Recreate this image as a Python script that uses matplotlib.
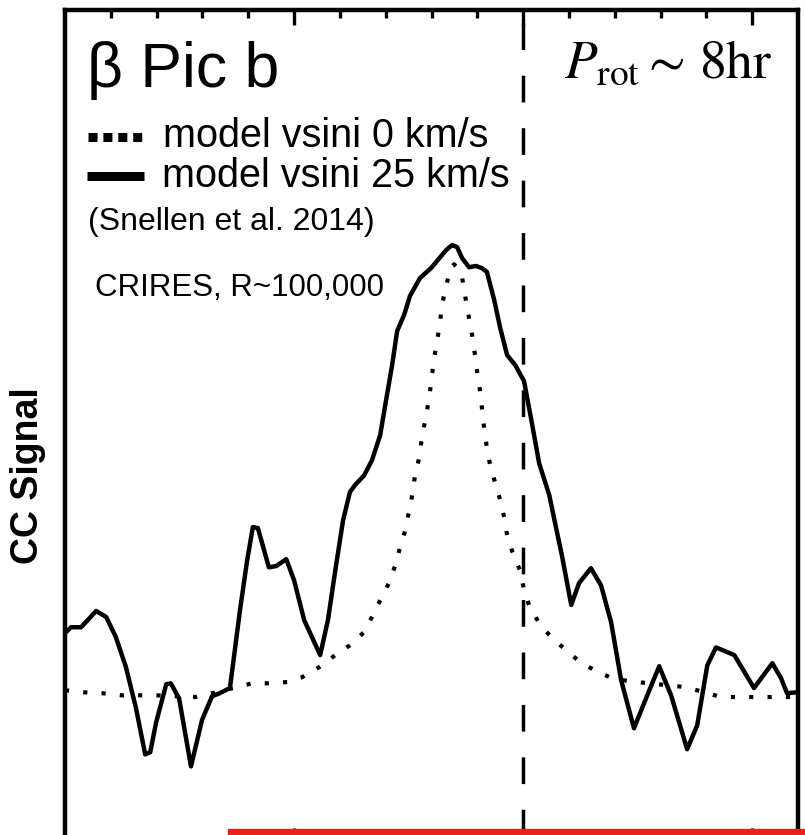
import numpy as np
import matplotlib.pyplot as plt
from matplotlib.lines import Line2D
from matplotlib.patches import Rectangle

plt.rcParams['font.family'] = ['Liberation Sans', 'DejaVu Sans']
plt.rcParams['mathtext.fontset'] = 'stix'

# velocity (km/s) and CC signal
v_obs = [-100.0, -98.7, -96.5, -93.2, -91.0, -88.9, -86.7, -84.5, -82.5, -81.4,
         -80.1, -77.9, -76.9, -75.1, -72.5, -70.1, -67.9, -66.2, -64.0, -61.8,
         -60.3, -59.0, -57.9, -55.5, -53.9, -51.7, -50.0, -47.8, -44.3, -42.6,
         -41.0, -39.3, -37.8, -36.7, -34.7, -33.0, -31.2, -30.1, -28.6, -27.5,
         -26.0, -24.7, -22.5, -20.1, -18.3, -16.8, -15.5, -14.4, -13.3, -11.8,
         -10.3, -9.0, -7.9, -6.3, -5.0, -3.5, -1.7, 0.2, 2.0, 3.5,
         5.7, 7.2, 8.5, 10.5, 12.2, 14.8, 17.0, 19.2, 21.4, 24.2,
         27.1, 29.7, 32.3, 35.8, 38.0, 40.2, 42.1, 46.1, 50.4, 54.4,
         56.3, 57.6, 59.8]
cc_obs = [0.133, 0.147, 0.147, 0.185, 0.171, 0.124, 0.054, -0.042, -0.150, -0.145,
          -0.075, 0.014, 0.016, -0.019, -0.178, -0.070, -0.014, -0.007, 0.005, 0.187,
          0.299, 0.381, 0.379, 0.287, 0.290, 0.306, 0.257, 0.164, 0.082, 0.164,
          0.280, 0.397, 0.463, 0.479, 0.502, 0.537, 0.596, 0.666, 0.759, 0.839,
          0.876, 0.921, 0.963, 0.986, 1.009, 1.028, 1.040, 1.035, 1.009, 0.988,
          0.991, 0.986, 0.977, 0.911, 0.846, 0.783, 0.759, 0.722, 0.619, 0.530,
          0.456, 0.379, 0.313, 0.199, 0.250, 0.285, 0.245, 0.159, 0.023, -0.089,
          -0.012, 0.056, -0.012, -0.138, -0.082, 0.058, 0.100, 0.082, 0.005, 0.063,
          0.028, -0.007, -0.005]

v_mod = [-100.0, -95.9, -91.9, -87.6, -80.1, -71.4, -67.0, -59.2, -55.9, -51.5,
         -48.3, -44.5, -41.0, -37.8, -34.7, -33.0, -31.2, -29.3, -27.9, -26.9,
         -25.8, -24.9, -24.2, -23.6, -22.7, -22.1, -21.4, -20.5, -19.9, -19.2,
         -18.3, -17.7, -16.8, -15.9, -15.1, -14.2, -13.3, -12.7, -11.8, -11.1,
         -10.5, -10.0, -9.4, -8.5, -7.9, -7.2, -6.1, -5.0, -4.1, -3.5,
         -2.4, -0.7, 0.2, 1.5, 3.5, 6.1, 9.4, 12.2, 15.5, 19.4,
         23.1, 35.6, 43.2, 52.0, 59.8]
cc_mod = [0.000, -0.005, -0.007, -0.012, -0.012, -0.016, -0.005, 0.016, 0.016, 0.019,
          0.030, 0.054, 0.082, 0.105, 0.136, 0.171, 0.210, 0.250, 0.292, 0.332,
          0.371, 0.418, 0.456, 0.502, 0.542, 0.589, 0.629, 0.682, 0.736, 0.790,
          0.846, 0.900, 0.946, 0.981, 0.995, 0.986, 0.963, 0.923, 0.869, 0.827,
          0.783, 0.741, 0.699, 0.612, 0.565, 0.526, 0.484, 0.444, 0.402, 0.362,
          0.325, 0.280, 0.234, 0.192, 0.157, 0.124, 0.093, 0.068, 0.047, 0.028,
          0.021, 0.007, -0.016, -0.016, -0.016]

W, H = 805, 835
fig = plt.figure(figsize=(W / 100, H / 100), dpi=100)

def fx(x):
    return x / W

def fy(y):
    return 1 - y / H

ax = fig.add_axes([fx(65), fy(843), fx(733), (843 - 10) / H])
ax.plot(v_mod, cc_mod, color='black', lw=3, ls=(0, (1, 3.4)), dash_capstyle='butt')
ax.plot(v_obs, cc_obs, color='black', lw=3.2, solid_joinstyle='round',
        solid_capstyle='round')
ax.axvline(0, color='black', lw=2.5, ls=(0, (7.7, 7.4)))

ax.set_xlim(-100, 60)
ax.set_ylim(-0.357, 1.589)
ax.set_xticks([-50, 0, 50])
ax.set_xticks(np.arange(-90, 60, 10), minor=True)
ax.set_yticks([])
ax.xaxis.set_ticks_position('both')
ax.tick_params(axis='x', which='both', direction='in', labelbottom=False,
               labeltop=False, width=2.4, color='black')
ax.tick_params(axis='x', which='major', length=11)
ax.tick_params(axis='x', which='minor', length=5.5)
for s in ax.spines.values():
    s.set_linewidth(3.2)

# text and legend
fig.text(fx(87), fy(87), 'β Pic b', fontsize=45, va='baseline', ha='left')
fig.text(fx(773), fy(78), r'$P_{\mathrm{rot}}\sim\,\mathrm{8hr}$', fontsize=38.5,
         va='baseline', ha='right')
fig.add_artist(Line2D([fx(88), fx(146)], [fy(137), fy(137)], color='black', lw=6.5,
                      ls=(0, (1, 0.65)), dash_capstyle='butt'))
fig.add_artist(Line2D([fx(87), fx(144)], [fy(175.5), fy(175.5)], color='black', lw=6.5,
                      solid_capstyle='butt'))
fig.text(fx(163), fy(147), 'model vsini 0 km/s', fontsize=28.5, va='baseline')
fig.text(fx(162), fy(187), 'model vsini 25 km/s', fontsize=28.5, va='baseline')
fig.text(fx(88), fy(230), '(Snellen et al. 2014)', fontsize=23, va='baseline')
fig.text(fx(95), fy(296), 'CRIRES, R~100,000', fontsize=22.5, va='baseline')
fig.text(fx(28), fy(476), 'CC Signal', fontsize=27, fontweight='bold', rotation=90,
         ha='center', va='center')

fig.add_artist(Rectangle((fx(228), 0), fx(W - 228), 6 / H, color='#E5231B',
                         transform=fig.transFigure, zorder=10))

fig.savefig('out.png', dpi=100)
